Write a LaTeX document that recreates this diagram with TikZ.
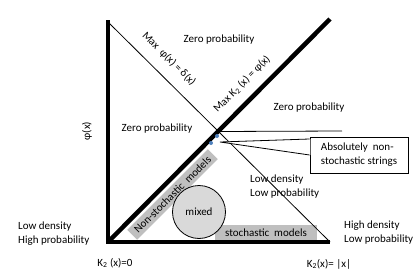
\documentclass[tikz,border=0pt]{standalone}
\usepackage{fontspec}
\setmainfont{Carlito}
\usetikzlibrary{calc}
\definecolor{bandgray}{HTML}{BFBFBF}
\definecolor{circgray}{HTML}{D9D9D9}
\definecolor{dotblue}{HTML}{4F81BD}
\begin{document}
\begin{tikzpicture}[x=1pt,y=-1pt,
  lbl/.style={font=\fontsize{11}{14}\selectfont, inner sep=0pt, align=left},
  axisline/.style={line width=4.5pt, line join=miter},
  thinline/.style={line width=0.8pt},
  grayband/.style={fill=bandgray, inner sep=0pt, font=\fontsize{11}{14}\selectfont},
  bluedot/.style={circle, fill=dotblue, inner sep=0pt, minimum size=4pt}]
\useasboundingbox (0,0) rectangle (416,279);
% axes and diagonals
\coordinate (Ytop) at (108,20);
\coordinate (O) at (108,242);
\coordinate (Xend) at (330,242);
\coordinate (Dtop) at (330,19);
\coordinate (Ttop) at (108,22);
\coordinate (X) at (218.5,131.5);
\coordinate (Hend) at (342,131);
% gray shapes
\node[grayband, rotate=45, minimum width=114pt, minimum height=14pt] (nsm) at (172.5,194.5) {Non-stochastic\ \ models};
\node[grayband, minimum width=102pt, minimum height=15pt] (sm) at (266,232.5) {stochastic\ \ models};
\node[circle, draw, thinline, fill=circgray, minimum size=53pt, inner sep=0pt, font=\fontsize{11}{14}\selectfont] (mixed) at (199,212) {mixed};
\draw[thinline] (Ttop) -- (Xend);
\draw[axisline] (Ytop) -- (O) -- (Xend);
\draw[axisline] (O) -- (Dtop);
\draw[thinline] (X) -- (Hend);
% blue dots
\node[bluedot] (d1) at (217,136) {};
\node[bluedot] (d2) at (211,143) {};
% callout
\node[draw, thinline, fill=white, minimum width=98pt, minimum height=36pt, lbl, inner sep=0pt] (abs) at (359,155) {Absolutely\ \ non-\\stochastic strings};
\coordinate (tip) at (220,142);
\fill[white] ($(abs.west)+(0.7,-16)$) -- (tip) -- ($(abs.west)+(0.7,0)$) -- cycle;
\draw[thinline] ($(abs.west)+(0,-16)$) -- (tip) -- (abs.west);
% labels
\node[lbl] (z1) at (219,40) {Zero probability};
\node[lbl] (z2) at (157,129) {Zero probability};
\node[lbl] (z3) at (309,108) {Zero probability};
\node[lbl, rotate=90] (phi) at (87,131) {φ(x)};
\node[lbl, rotate=-45] (maxphi) at (169,59) {Max\ \ φ(x) = δ(x)};
\node[lbl, rotate=45] (maxk) at (242,84) {Max K\textsubscript{2} (x) = φ(x)};
\node[lbl, anchor=west] (ldhp) at (18,234) {Low density\\High probability};
\node[lbl, anchor=west] (ldlp) at (250,187) {Low density\\Low probability};
\node[lbl, anchor=west] (hdlp) at (344,233) {High density\\Low probability};
\node[lbl] (k0) at (115,263) {K\textsubscript{2} (x)=0};
\node[lbl] (kx) at (329,264) {K\textsubscript{2}(x)= |x|};
\end{tikzpicture}
\end{document}
